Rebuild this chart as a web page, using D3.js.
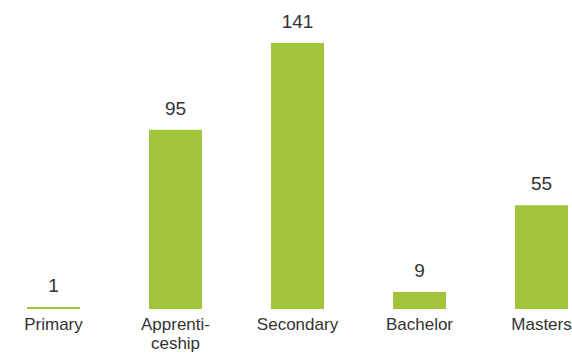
<!DOCTYPE html>
<html>
<head>
<meta charset="utf-8">
<script src="https://cdn.jsdelivr.net/npm/d3@7"></script>
<style>
  body { margin: 0; background: #fff; }
  svg { display: block; }
</style>
</head>
<body>
<div id="chart"></div>
<script>
// categories and values
var categories = ["Primary", "Apprenticeship", "Secondary", "Bachelor", "Masters"];
var labelLines = [["Primary"], ["Apprenti-", "ceship"], ["Secondary"], ["Bachelor"], ["Masters"]];
var values = [1, 95, 141, 9, 55];

var width = 572, height = 354;
var baseY = 309;

var svg = d3.select('#chart')
    .append('svg')
        .attr('width', width)
        .attr('height', height);

var x = d3.scaleBand()
    .domain(categories)
    .range([-7.5, 602.5])
    .paddingInner(0.5656)
    .paddingOuter(0.2828);

var y = d3.scaleLinear()
    .domain([0, 141])
    .range([baseY, 43]);

var data = categories.map(function(c, i) {
  return {cat: c, value: values[i], lines: labelLines[i]};
});

// bars
svg.selectAll('.bar')
    .data(data)
    .enter()
    .append('rect')
    .attr('class', 'bar')
    .attr('x', function(d) { return x(d.cat); })
    .attr('width', x.bandwidth())
    .attr('y', function(d) { return Math.min(y(d.value), baseY - 2); })
    .attr('height', function(d) { return Math.max(baseY - y(d.value), 2); })
    .attr('fill', '#a2c43a');

// value labels
svg.selectAll('.val')
    .data(data)
    .enter()
    .append('text')
    .attr('class', 'val')
    .attr('x', function(d) { return x(d.cat) + x.bandwidth() / 2; })
    .attr('y', function(d) { return Math.min(y(d.value), baseY - 2) - 15; })
    .attr('text-anchor', 'middle')
    .attr('font-family', 'Liberation Sans, Arial, sans-serif')
    .attr('font-size', 19)
    .attr('fill', '#333')
    .text(function(d) { return d.value; });

// category labels
var cats = svg.selectAll('.cat')
    .data(data)
    .enter()
    .append('text')
    .attr('class', 'cat')
    .attr('x', function(d) { return x(d.cat) + x.bandwidth() / 2; })
    .attr('y', 330)
    .attr('text-anchor', 'middle')
    .attr('font-family', 'Liberation Sans, Arial, sans-serif')
    .attr('font-size', 17)
    .attr('fill', '#333');

cats.selectAll('tspan')
    .data(function(d) { return d.lines; })
    .enter()
    .append('tspan')
    .attr('x', function() { var p = d3.select(this.parentNode).datum(); return x(p.cat) + x.bandwidth() / 2; })
    .attr('dy', function(d, i) { return i === 0 ? 0 : 19; })
    .text(function(d) { return d; });
</script>
</body>
</html>
